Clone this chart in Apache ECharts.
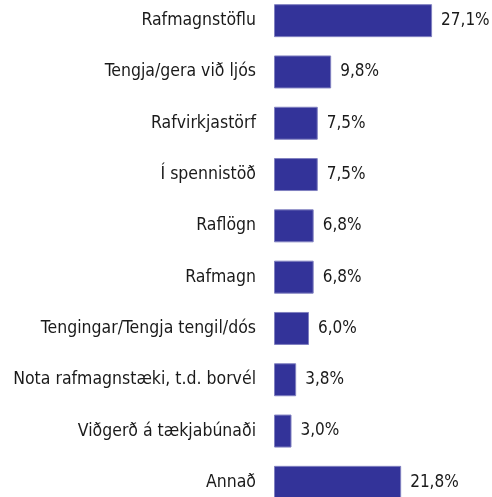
<!DOCTYPE html>
<html>
<head>
<meta charset="utf-8">
<script src="https://cdn.jsdelivr.net/npm/echarts@6/dist/echarts.min.js"></script>
<style>
  html, body { margin: 0; padding: 0; background: #fff; overflow: hidden; }
  /* the plot runs a little past the top and bottom edge, as in the picture */
  #chart { position: absolute; left: 0; top: -5px; width: 492px; height: 513px; }
</style>
</head>
<body>
<div id="chart"></div>
<script>
// flokkar og gildi (%)
const categories = [
    'Rafmagnstöflu',
    'Tengja/gera við ljós',
    'Rafvirkjastörf',
    'Í spennistöð',
    'Raflögn',
    'Rafmagn',
    'Tengingar/Tengja tengil/dós',
    'Nota rafmagnstæki, t.d. borvél',
    'Viðgerð á tækjabúnaði',
    'Annað'
];
const values = [27.1, 9.8, 7.5, 7.5, 6.8, 6.8, 6.0, 3.8, 3.0, 21.8];

const font = '"Arial Narrow", "DejaVu Sans Condensed", sans-serif';

const chart = echarts.init(document.getElementById('chart'));

const option = {
    animation: false,
    grid: {left: 274, right: 43, top: 0, bottom: 0, containLabel: false},
    xAxis: {
        type: 'value', min: 0, max: 30,
        show: false
    },
    yAxis: {
        type: 'category',
        inverse: true,
        data: categories,
        axisLine: {show: false},
        axisTick: {show: false},
        axisLabel: {
            margin: 18,
            padding: [4, 0, 0, 0],
            fontFamily: font,
            fontSize: 17.5,
            color: '#1a1a1a'
        }
    },
    series: [{
        type: 'bar',
        data: values,
        barCategoryGap: '35.7%',
        itemStyle: {color: '#333399', borderColor: '#8080c0', borderWidth: 1},
        label: {
            show: true,
            position: 'right',
            distance: 9,
            padding: [3, 0, 0, 0],
            fontFamily: font,
            fontSize: 17,
            color: '#1a1a1a',
            formatter: function (p) {
                return p.value.toFixed(1).replace('.', ',') + '%';
            }
        }
    }]
};

chart.setOption(option);
</script>
</body>
</html>
